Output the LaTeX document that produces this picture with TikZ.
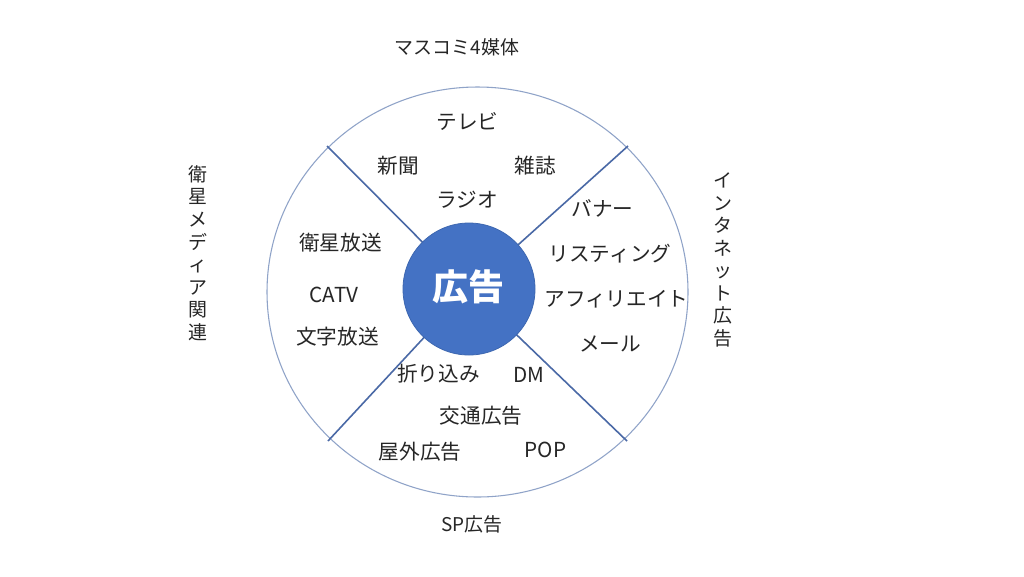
\documentclass[tikz,border=0pt]{standalone}
\usepackage{fontspec}
\setmainfont{Noto Sans CJK JP}
\definecolor{txt}{HTML}{262626}
\definecolor{adblue}{HTML}{4472C4}
\definecolor{ringc}{HTML}{8FA3C8}
\definecolor{spoke}{HTML}{4A69A6}
\begin{document}
\begin{tikzpicture}[x=0.75pt,y=-0.75pt,
  item/.style={font=\fontsize{15.5}{18}\selectfont, text=txt, inner sep=0pt},
  cat/.style={font=\fontsize{14.2}{16.9}\selectfont, text=txt, inner sep=0pt, align=center},
  spokeline/.style={spoke, line width=1.2pt},
  ring/.style={ringc, line width=0.8pt}]
\useasboundingbox (0,0) rectangle (1024,576);
\fill[white] (0,0) rectangle (1024,576);
% outer ring
\coordinate (oc) at (477.5,292);
\draw[ring] (oc) ellipse [x radius=210.5, y radius=205];
% spokes
\coordinate (ic) at (469,289);
\coordinate (ul) at (327,146);
\coordinate (ur) at (628,146);
\coordinate (ll) at (328,441);
\coordinate (lr) at (627,441);
\draw[spokeline] (ul) -- (ic);
\draw[spokeline] (ur) -- (ic);
\draw[spokeline] (ll) -- (ic);
\draw[spokeline] (lr) -- (ic);
% core
\node[circle, fill=adblue, draw=adblue!90!black, line width=0.6pt, minimum size=99pt, inner sep=0pt,
      text=white, font=\fontsize{27}{30}\selectfont\bfseries] (core) at (ic) {};
\node[text=white, font=\fontsize{27}{30}\selectfont\bfseries, inner sep=0pt] (corelabel) at (468,287) {広告};
% top sector
\node[item] (tv) at (467.5,121) {テレビ};
\node[item] (news) at (398.5,166) {新聞};
\node[item] (mag) at (535.5,166) {雑誌};
\node[item] (radio) at (467.5,200) {ラジオ};
% left sector
\node[item] (bs) at (340.5,243) {衛星放送};
\node[item] (catv) at (334,295) {CATV};
\node[item] (teletext) at (337.5,337) {文字放送};
% right sector
\node[item] (banner) at (602.5,208) {バナー};
\node[item] (listing) at (610,254) {リスティング};
\node[item] (affiliate) at (616.5,299) {アフィリエイト};
\node[item] (mail) at (610,344) {メール};
% bottom sector
\node[item] (insert) at (438.5,374) {折り込み};
\node[item] (dm) at (528.5,374.5) {DM};
\node[item] (transit) at (481,416) {交通広告};
\node[item] (outdoor) at (420,452) {屋外広告};
\node[item] (pop) at (545.5,449.5) {POP};
% category labels
\node[cat] (mass) at (457,47) {マスコミ4媒体};
\node[cat] (sp) at (472,524) {SP広告};
\node[cat] (sat) at (198,253) {衛\\星\\メ\\デ\\ィ\\ア\\関\\連};
\node[cat] (net) at (723,260) {イ\\ン\\タ\\ネ\\ッ\\ト\\広\\告};
\end{tikzpicture}
\end{document}
